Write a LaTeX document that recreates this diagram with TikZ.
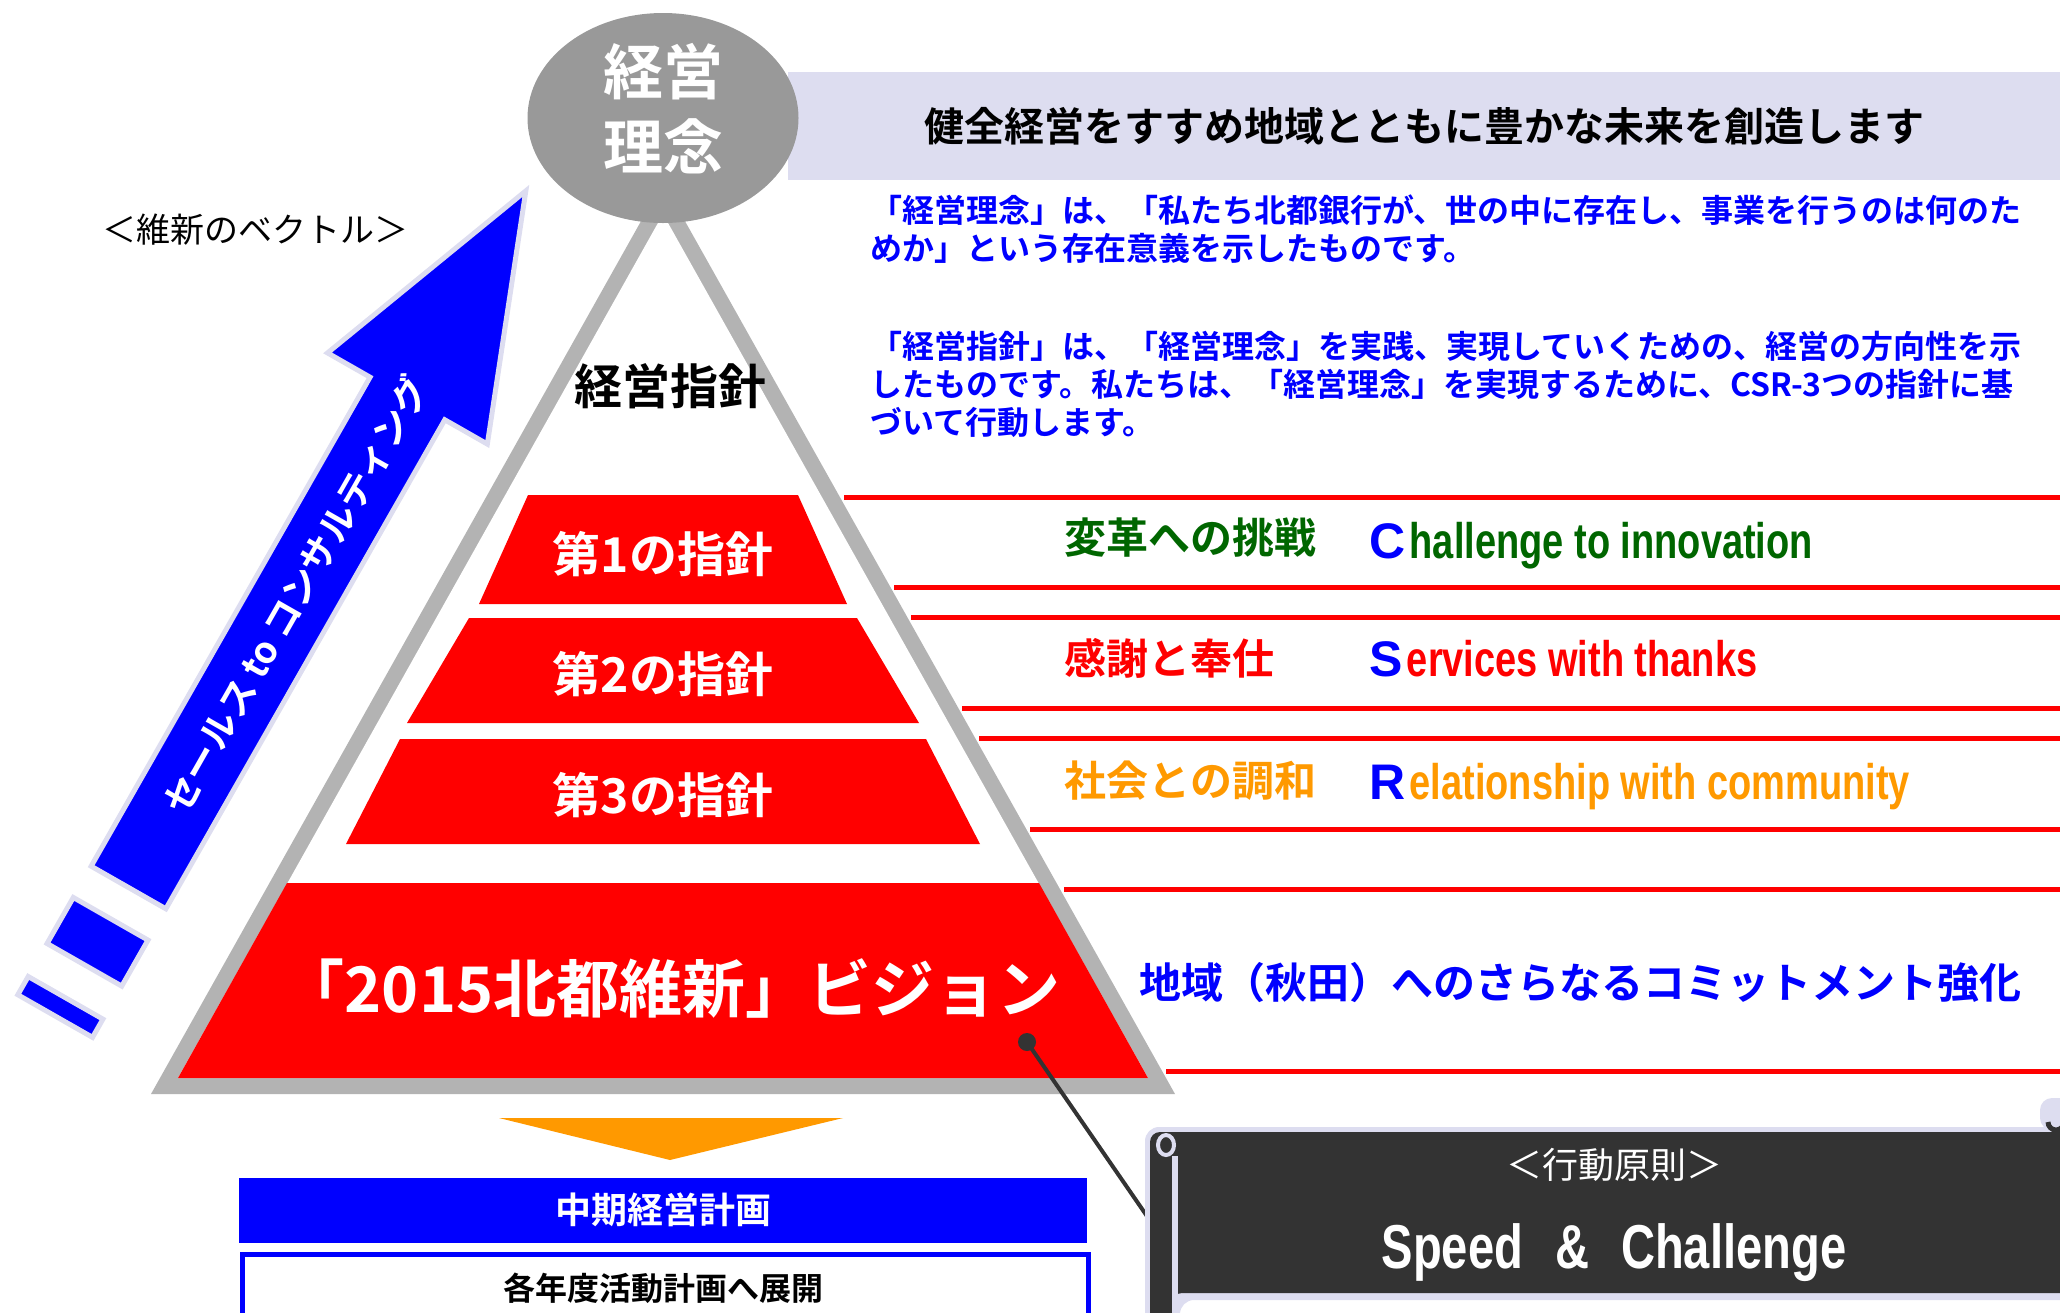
\documentclass[tikz,border=0pt]{standalone}
\usepackage{fontspec}
\setmainfont{Noto Sans CJK JP}[BoldFont={Noto Sans CJK JP Bold}]
\newfontfamily\engfont{Liberation Sans}[FakeStretch=0.76]
\newfontfamily\capfont{Liberation Sans}
\usetikzlibrary{shapes.geometric}
\newcommand{\txtsize}[1]{\fontsize{#1}{#1}\selectfont}
\definecolor{lav}{RGB}{221,221,240}
\definecolor{rimgray}{RGB}{179,179,179}
\definecolor{topgray}{RGB}{153,153,153}
\definecolor{leafgreen}{RGB}{0,102,0}
\definecolor{amber}{RGB}{255,153,0}
\definecolor{ink}{RGB}{51,51,51}
\tikzset{
  redline/.style={red, line width=5pt},
  tiertext/.style={text=white, font=\txtsize{48}\bfseries},
  jplabel/.style={anchor=base west, font=\txtsize{42}\bfseries},
  enlabel/.style={anchor=base west, font=\engfont\bfseries\txtsize{50}},
  para/.style={anchor=west, align=left, text=blue, font=\fontsize{32}{38}\selectfont\bfseries},
  vecfill/.style={fill=blue, draw=lav, line width=5pt},
}
\begin{document}
\begin{tikzpicture}[x=1pt, y=-1pt]
    \clip (0,0) rectangle (2060,1312);

    % motto band
    \node[fill=lav, minimum width=1272pt, minimum height=108pt, font=\txtsize{40}\bfseries] (motto) at (1424,126) {健全経営をすすめ地域とともに豊かな未来を創造します};

    % red rules
    \draw[redline] (844,497)--(2060,497);
    \draw[redline] (894,587)--(2060,587);
    \draw[redline] (911,617)--(2060,617);
    \draw[redline] (962,708)--(2060,708);
    \draw[redline] (979,738)--(2060,738);
    \draw[redline] (1030,829)--(2060,829);
    \draw[redline] (1064,889)--(2060,889);
    \draw[redline] (1166,1071)--(2060,1071);

    % pyramid
    \fill[rimgray] (663,182)--(151,1094)--(1175,1094)--cycle;
    \fill[white] (663,214)--(178,1078)--(1148,1078)--cycle;
    \fill[red] (528,495)--(798,495)--(847,604)--(479,604)--cycle;
    \fill[red] (469,618)--(857,618)--(919,723)--(407,723)--cycle;
    \fill[red] (400,739)--(926,739)--(980,844)--(346,844)--cycle;
    \fill[red] (287,883)--(1039,883)--(1148,1078)--(178,1078)--cycle;

    \node[font=\txtsize{48}\bfseries] (shishin) at (670,386) {経営指針};
    \node[tiertext] (tier1) at (663,554) {第1の指針};
    \node[tiertext] (tier2) at (663,674) {第2の指針};
    \node[tiertext] (tier3) at (663,795) {第3の指針};
    \node[text=white, font=\txtsize{63}\bfseries] (vision) at (671,988) {「2015北都維新」ビジョン};

    % top oval
    \fill[topgray] (663,118) ellipse [x radius=135.5, y radius=105];
    \node[align=center, text=white, font=\fontsize{60}{75}\selectfont\bfseries] (rinen) at (663,109) {経営\\理念};

    % explanations
    \node[para] (rinenexp) at (867,229) {「経営理念」は、「私たち北都銀行が、世の中に存在し、事業を行うのは何のた\\めか」という存在意義を示したものです。};
    \node[para] (shishinexp) at (867,384) {「経営指針」は、「経営理念」を実践、実現していくための、経営の方向性を示\\したものです。私たちは、「経営理念」を実現するために、CSR-3つの指針に基\\づいて行動します。};

    \node[jplabel, text=leafgreen] (henkaku) at (1061,553) {変革への挑戦};
    \node[jplabel, text=red] (kansha) at (1061,674) {感謝と奉仕};
    \node[jplabel, text=amber] (chowa) at (1061,796) {社会との調和};
    \node[enlabel, text=leafgreen] (chal) at (1366,558) {{\capfont\textcolor{blue}{C}}\hspace{4pt}hallenge to innovation};
    \node[enlabel, text=red] (serv) at (1366,676) {{\capfont\textcolor{blue}{S}}\hspace{4pt}ervices with thanks};
    \node[enlabel, text=amber] (rela) at (1366,799) {{\capfont\textcolor{blue}{R}}\hspace{4pt}elationship with community};
    \node[jplabel, text=blue] (commit) at (1136,998) {地域（秋田）へのさらなるコミットメント強化};

    % vector arrow
    \node[font=\txtsize{34}] (vector) at (255,230) {＜維新のベクトル＞};
    \begin{scope}[shift={(128.5,887.5)}, rotate=60.3]
        \filldraw[vecfill] (0,-43)--(563,-43)--(563,-92)--(802,0)--(563,92)--(563,43)--(0,43)--cycle;
        \filldraw[vecfill] (-36,-43)--(-89,-43)--(-89,43)--(-36,43)--cycle;
        \filldraw[vecfill] (-127,-43)--(-148,-43)--(-148,43)--(-127,43)--cycle;
        \node[rotate=60.3, text=white, font=\txtsize{37}\bfseries] (vectext) at (337,0) {セールス\hspace{8pt}to\hspace{8pt}コンサルティング};
    \end{scope}

    % plans
    \fill[amber] (499,1118)--(843,1118)--(670,1160)--cycle;
    \node[fill=blue, minimum width=848pt, minimum height=65pt, text=white, font=\txtsize{36}\bfseries] (midplan) at (663,1210) {中期経営計画};
    \draw[blue, line width=5pt] (242,1254) rectangle (1088,1340);
    \node[font=\txtsize{32}\bfseries] (yearplan) at (663,1288) {各年度活動計画へ展開};

    % pin to scroll
    \node[circle, fill=ink, inner sep=0pt, minimum size=18pt] (pin) at (1027,1042) {};
    \coordinate (rollpt) at (1160,1235);
    \draw[ink, line width=4pt] (pin.center)--(rollpt);

    % scroll
    \fill[lav, rounded corners=14pt] (1145,1340) |- (2080,1127) |- (1180,1300) -- (1180,1340) -- cycle;
    \fill[ink, rounded corners=10pt] (1150,1340) |- (2080,1132) |- (1172,1293) -- (1172,1340) -- cycle;
    \draw[lav, line width=6pt] (1175,1156)--(1175,1340);
    \filldraw[draw=lav, fill=ink, line width=4pt] (1166,1145) ellipse [x radius=8, y radius=10];
    \fill[lav, rounded corners=12pt] (2040,1130)--(2040,1098)--(2080,1098)--(2080,1130)--cycle;
    \draw[ink, line width=5pt] (2048,1122) arc[start angle=180, end angle=0, radius=8];
    \node[text=white, font=\txtsize{36}] (gensoku) at (1614,1165) {＜行動原則＞};
    \node[text=white, font=\engfont\bfseries\txtsize{62}] (speed) at (1614,1253) {Speed\hspace{32pt}\&\hspace{32pt}Challenge};
\end{tikzpicture}
\end{document}
